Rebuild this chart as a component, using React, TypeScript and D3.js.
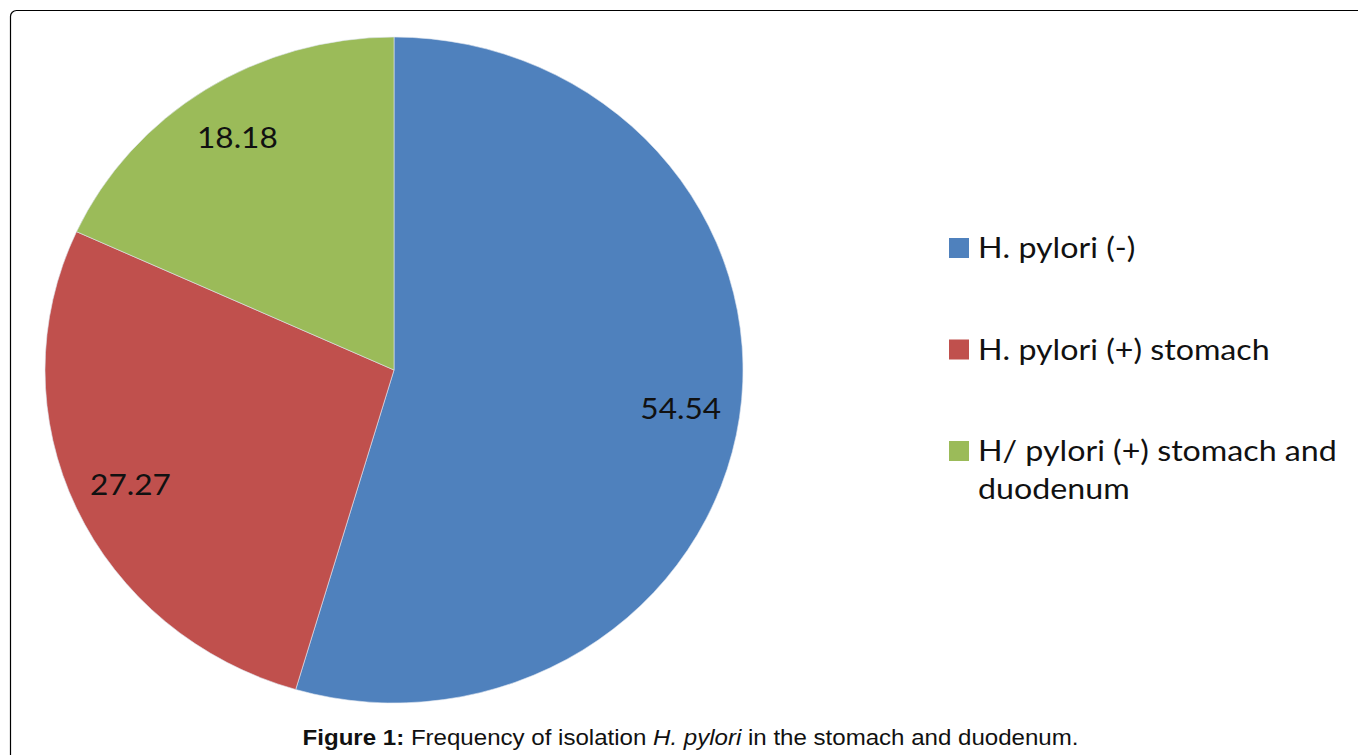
import React, { useEffect, useRef } from 'react';
import * as d3 from 'd3';

// categories, values and colours
const categories = ['H. pylori (-)', 'H. pylori (+) stomach', 'H/ pylori (+) stomach and duodenum'];
const values = [54.54, 27.27, 18.18];
const labels = ['54.54', '27.27', '18.18'];
const colors = ['#4F81BD', '#C0504D', '#9BBB59'];
// legend text as wrapped in the figure
const legendLines = [['H. pylori (-)'], ['H. pylori (+) stomach'], ['H/ pylori (+) stomach and', 'duodenum']];

const App = () => {
  const svgRef = useRef<SVGSVGElement>(null);

  useEffect(() => {
    const width = 1358;
    const height = 755;
    const cx = 394;
    const cy = 370;
    const rx = 349; // the figure is stretched sideways a bit
    const ry = 333;
    const font = 'Lato, "Open Sans", sans-serif';

    const svg = d3.select(svgRef.current)
      .attr('width', width)
      .attr('height', height);
    svg.selectAll('*').remove();

    svg.append('rect')
      .attr('width', width)
      .attr('height', height)
      .attr('fill', '#fff');

    // frame, runs off the right and bottom edges
    svg.append('rect')
      .attr('x', 10.5)
      .attr('y', 10.5)
      .attr('width', width + 20)
      .attr('height', height + 20)
      .attr('rx', 6)
      .attr('fill', 'none')
      .attr('stroke', '#000')
      .attr('stroke-width', 1.2);

    const pie = d3.pie<number>().sort(null).value(d => d);
    const arcs = pie(values);
    const arc = d3.arc<d3.PieArcDatum<number>>().innerRadius(0).outerRadius(ry);
    const labelArc = d3.arc<d3.PieArcDatum<number>>().innerRadius(ry * 0.83).outerRadius(ry * 0.83);

    svg.append('g')
      .attr('transform', `translate(${cx},${cy}) scale(${rx / ry},1)`)
      .selectAll('path')
      .data(arcs)
      .join('path')
      .attr('d', arc)
      .attr('fill', (d, i) => colors[i])
      .attr('stroke', '#dfe6f0')
      .attr('stroke-width', 0.6)
      .attr('vector-effect', 'non-scaling-stroke');

    // data labels
    svg.append('g')
      .attr('transform', `translate(${cx},${cy})`)
      .selectAll('text')
      .data(arcs)
      .join('text')
      .attr('transform', d => {
        const [x, y] = labelArc.centroid(d);
        return `translate(${x * rx / ry},${y}) scale(1.09,1)`;
      })
      .attr('text-anchor', 'middle')
      .attr('dy', '0.35em')
      .attr('font-family', font)
      .attr('font-size', 29)
      .attr('fill', '#111')
      .text((d, i) => labels[i]);

    // legend
    const legend = svg.append('g')
      .selectAll('g')
      .data(categories)
      .join('g')
      .attr('transform', (d, i) => `translate(949, ${238 + i * 101.5})`);

    legend.append('rect')
      .attr('width', 20)
      .attr('height', 20)
      .attr('fill', (d, i) => colors[i]);

    legend.append('text')
      .attr('transform', 'translate(29,20) scale(1.13,1)')
      .attr('font-family', font)
      .attr('font-size', 28.5)
      .attr('fill', '#111')
      .selectAll('tspan')
      .data((d, i) => legendLines[i])
      .join('tspan')
      .attr('x', 0)
      .attr('dy', (d, j) => (j === 0 ? 0 : 38))
      .text(d => d);

    // caption
    const caption = svg.append('text')
      .attr('transform', 'translate(690.5,745) scale(1.095,1)')
      .attr('text-anchor', 'middle')
      .attr('font-family', 'Arial, "Liberation Sans", sans-serif')
      .attr('font-size', 22)
      .attr('fill', '#111');
    caption.append('tspan').attr('font-weight', 'bold').text('Figure 1:');
    caption.append('tspan').text(' Frequency of isolation ');
    caption.append('tspan').attr('font-style', 'italic').text('H. pylori');
    caption.append('tspan').text(' in the stomach and duodenum.');
  }, []);

  return (
    <div style={{ position: 'absolute', left: 0, top: 0 }}>
      <svg ref={svgRef} style={{ display: 'block' }}></svg>
    </div>
  );
};

export default App;
